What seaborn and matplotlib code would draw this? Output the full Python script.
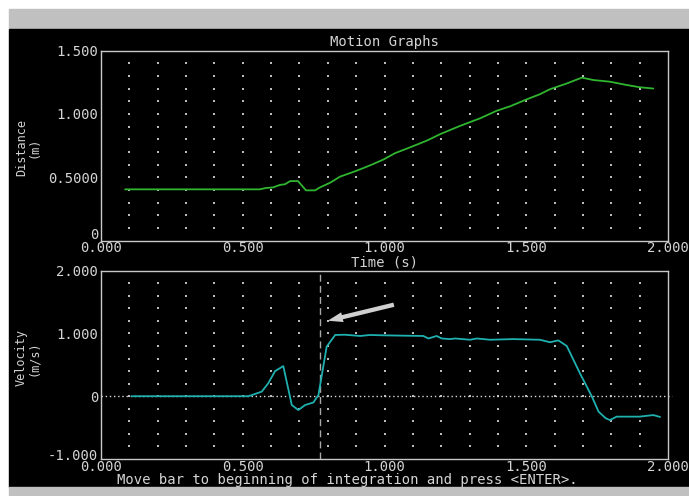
import numpy as np
import matplotlib
matplotlib.use("Agg")
import matplotlib.pyplot as plt
import matplotlib.transforms as mtransforms
from matplotlib.patches import Rectangle
import seaborn as sns

# ---- data ----
dist_time = [0.085, 0.20, 0.30, 0.40, 0.50, 0.56, 0.582, 0.607, 0.631, 0.649,
             0.667, 0.695, 0.723, 0.755, 0.772, 0.808, 0.843, 0.902, 0.950,
             0.996, 1.037, 1.100, 1.150, 1.196, 1.266, 1.337, 1.396, 1.443,
             1.502, 1.548, 1.584, 1.643, 1.696, 1.737, 1.795, 1.854, 1.901, 1.948]
distance = [0.405, 0.405, 0.405, 0.405, 0.405, 0.405, 0.416, 0.420, 0.440, 0.445,
            0.470, 0.470, 0.397, 0.397, 0.420, 0.457, 0.505, 0.552, 0.595,
            0.640, 0.690, 0.745, 0.790, 0.840, 0.905, 0.965, 1.025, 1.060,
            1.115, 1.155, 1.195, 1.240, 1.286, 1.267, 1.254, 1.228, 1.210, 1.200]

vel_time = [0.108, 0.20, 0.30, 0.40, 0.52, 0.567, 0.590, 0.614, 0.643, 0.673,
            0.696, 0.720, 0.749, 0.767, 0.796, 0.826, 0.860, 0.914, 0.949, 1.000,
            1.137, 1.155, 1.184, 1.202, 1.231, 1.249, 1.302, 1.325, 1.372, 1.454,
            1.548, 1.584, 1.613, 1.643, 1.690, 1.731, 1.755, 1.780, 1.795, 1.819,
            1.900, 1.948, 1.972]
velocity = [0.0, 0.0, 0.0, 0.0, 0.0, 0.073, 0.207, 0.40, 0.48, -0.14,
            -0.22, -0.14, -0.10, 0.02, 0.79, 0.976, 0.98, 0.96, 0.976, 0.97,
            0.96, 0.92, 0.96, 0.92, 0.91, 0.92, 0.90, 0.92, 0.90, 0.91,
            0.90, 0.86, 0.89, 0.80, 0.36, 0.0, -0.245, -0.35, -0.38, -0.325,
            -0.325, -0.30, -0.33]

x_ticks = [0.0, 0.5, 1.0, 1.5, 2.0]
x_tick_labels = ["0.000", "0.500", "1.000", "1.500", "2.000"]
dist_ticks = [0.0, 0.5, 1.0, 1.5]
dist_tick_labels = ["0", "0.5000", "1.000", "1.500"]
vel_ticks = [-1.0, 0.0, 1.0, 2.0]
vel_tick_labels = ["-1.000", "0", "1.000", "2.000"]
bar_time = 0.772
arrow_tail = (1.033, 1.458)
arrow_head = (0.800, 1.203)

# ---- style ----
sns.set_style("dark")
FG = "#d4d4d4"
plt.rcParams["font.family"] = ["DejaVu Sans Mono", "DejaVu Sans"]
plt.rcParams.update({
    "axes.facecolor": "black",
    "axes.edgecolor": "#c8c8c8",
    "axes.linewidth": 1.0,
    "text.color": FG,
    "xtick.color": "#c8c8c8",
    "ytick.color": "#c8c8c8",
    "xtick.labelcolor": FG,
    "ytick.labelcolor": FG,
})

W, H = 689, 496
fig = plt.figure(figsize=(W / 100, H / 100), dpi=100)
fig.patch.set_facecolor("white")


def frect(x0, y0, x1, y1, color):
    """Rectangle in pixel coordinates measured from the top-left corner."""
    fig.patches.append(Rectangle((x0 / W, 1 - y1 / H), (x1 - x0) / W, (y1 - y0) / H,
                                 transform=fig.transFigure, color=color, zorder=-10))


frect(9, 9, W, 29, "#c0c0c0")
frect(9, 29, W, 487, "black")
frect(9, 487, W, H, "#c0c0c0")


def add_axes(top_px, bottom_px):
    left_px, right_px = 101, 668
    return fig.add_axes([left_px / W, 1 - bottom_px / H,
                         (right_px - left_px) / W, (bottom_px - top_px) / H])


ax1 = add_axes(50.5, 240.7)
ax2 = add_axes(270.7, 459.0)

FS = 10.0
minor_x = np.round(np.arange(0.1, 2.0, 0.1), 2)


def dress(ax, ylim, yticks, ylabels, yminor_step, lift_px):
    ax.set_xlim(0, 2.0)
    ax.set_ylim(*ylim)
    ax.set_xticks(x_ticks)
    ax.set_xticklabels(x_tick_labels)
    ax.set_xticks(minor_x, minor=True)
    ax.set_yticks(yticks)
    ax.set_yticklabels(ylabels)
    yminor = np.round(np.arange(ylim[0] + yminor_step, ylim[1] - 1e-6, yminor_step), 2)
    ax.set_yticks(yminor, minor=True)
    ax.tick_params(axis="both", which="major", direction="in", length=6, width=1,
                   labelsize=FS, pad=2)
    ax.tick_params(axis="both", which="minor", direction="in", length=3, width=1)
    ax.tick_params(axis="x", pad=0.5)
    for s in ax.spines.values():
        s.set_visible(True)
        s.set_color("#c8c8c8")
    ax.grid(False)
    gx, gy = np.meshgrid(minor_x, yminor)
    ax.scatter(gx.ravel(), gy.ravel(), s=0.7, marker="s", color="#bcbcbc",
               linewidths=0, zorder=1)
    # lowest y label sits above its tick, clear of the time labels
    lab = ax.get_yticklabels()[0]
    lab.set_transform(lab.get_transform() +
                      mtransforms.ScaledTranslation(0, lift_px / 100, fig.dpi_scale_trans))


dress(ax1, (0, 1.5), dist_ticks, dist_tick_labels, 0.1, 7)
dress(ax2, (-1.0, 2.0), vel_ticks, vel_tick_labels, 0.2, 5)

# distance curve
sns.lineplot(x=dist_time, y=distance, ax=ax1, color="#2fb52f", linewidth=1.3,
             zorder=3)
# zero reference line on the velocity plot
ax2.plot([0, 2.015], [0, 0], color="#d8d8d8", linestyle=(0, (1, 2)),
         linewidth=1.0, clip_on=False, zorder=2)
# velocity curve
sns.lineplot(x=vel_time, y=velocity, ax=ax2, color="#1fb0b0", linewidth=1.3,
             zorder=3)
# integration bar
ax2.axvline(bar_time, color="#a8a8a8", linestyle=(0, (5, 3)), linewidth=1.0,
            zorder=2)
ax2.annotate("", xy=arrow_head, xytext=arrow_tail,
             arrowprops=dict(arrowstyle="simple,head_length=0.9,head_width=0.6,tail_width=0.26",
                             mutation_scale=12, color="#d0d0d0", shrinkA=0,
                             shrinkB=0, linewidth=0))
for ax in (ax1, ax2):
    ax.set_xlabel("")
    ax.set_ylabel("")

# texts
fig.text(384.5 / W, 1 - 42 / H, "Motion Graphs", ha="center", va="center",
         fontsize=FS, color=FG)
fig.text(384.5 / W, 1 - 262 / H, "Time (s)", ha="center", va="center",
         fontsize=FS, color=FG)
fig.text(117 / W, 1 - 480 / H,
         "Move bar to beginning of integration and press <ENTER>.",
         ha="left", va="center", fontsize=FS, color=FG)
fig.text(27.5 / W, 1 - 147 / H, "Distance\n(m)", rotation=90, ha="center",
         va="center", fontsize=8.6, color=FG, linespacing=0.95, multialignment="center")
fig.text(27.5 / W, 1 - 358 / H, "Velocity\n(m/s)", rotation=90, ha="center",
         va="center", fontsize=8.6, color=FG, linespacing=0.95, multialignment="center")

fig.savefig("out.png", dpi=100)
